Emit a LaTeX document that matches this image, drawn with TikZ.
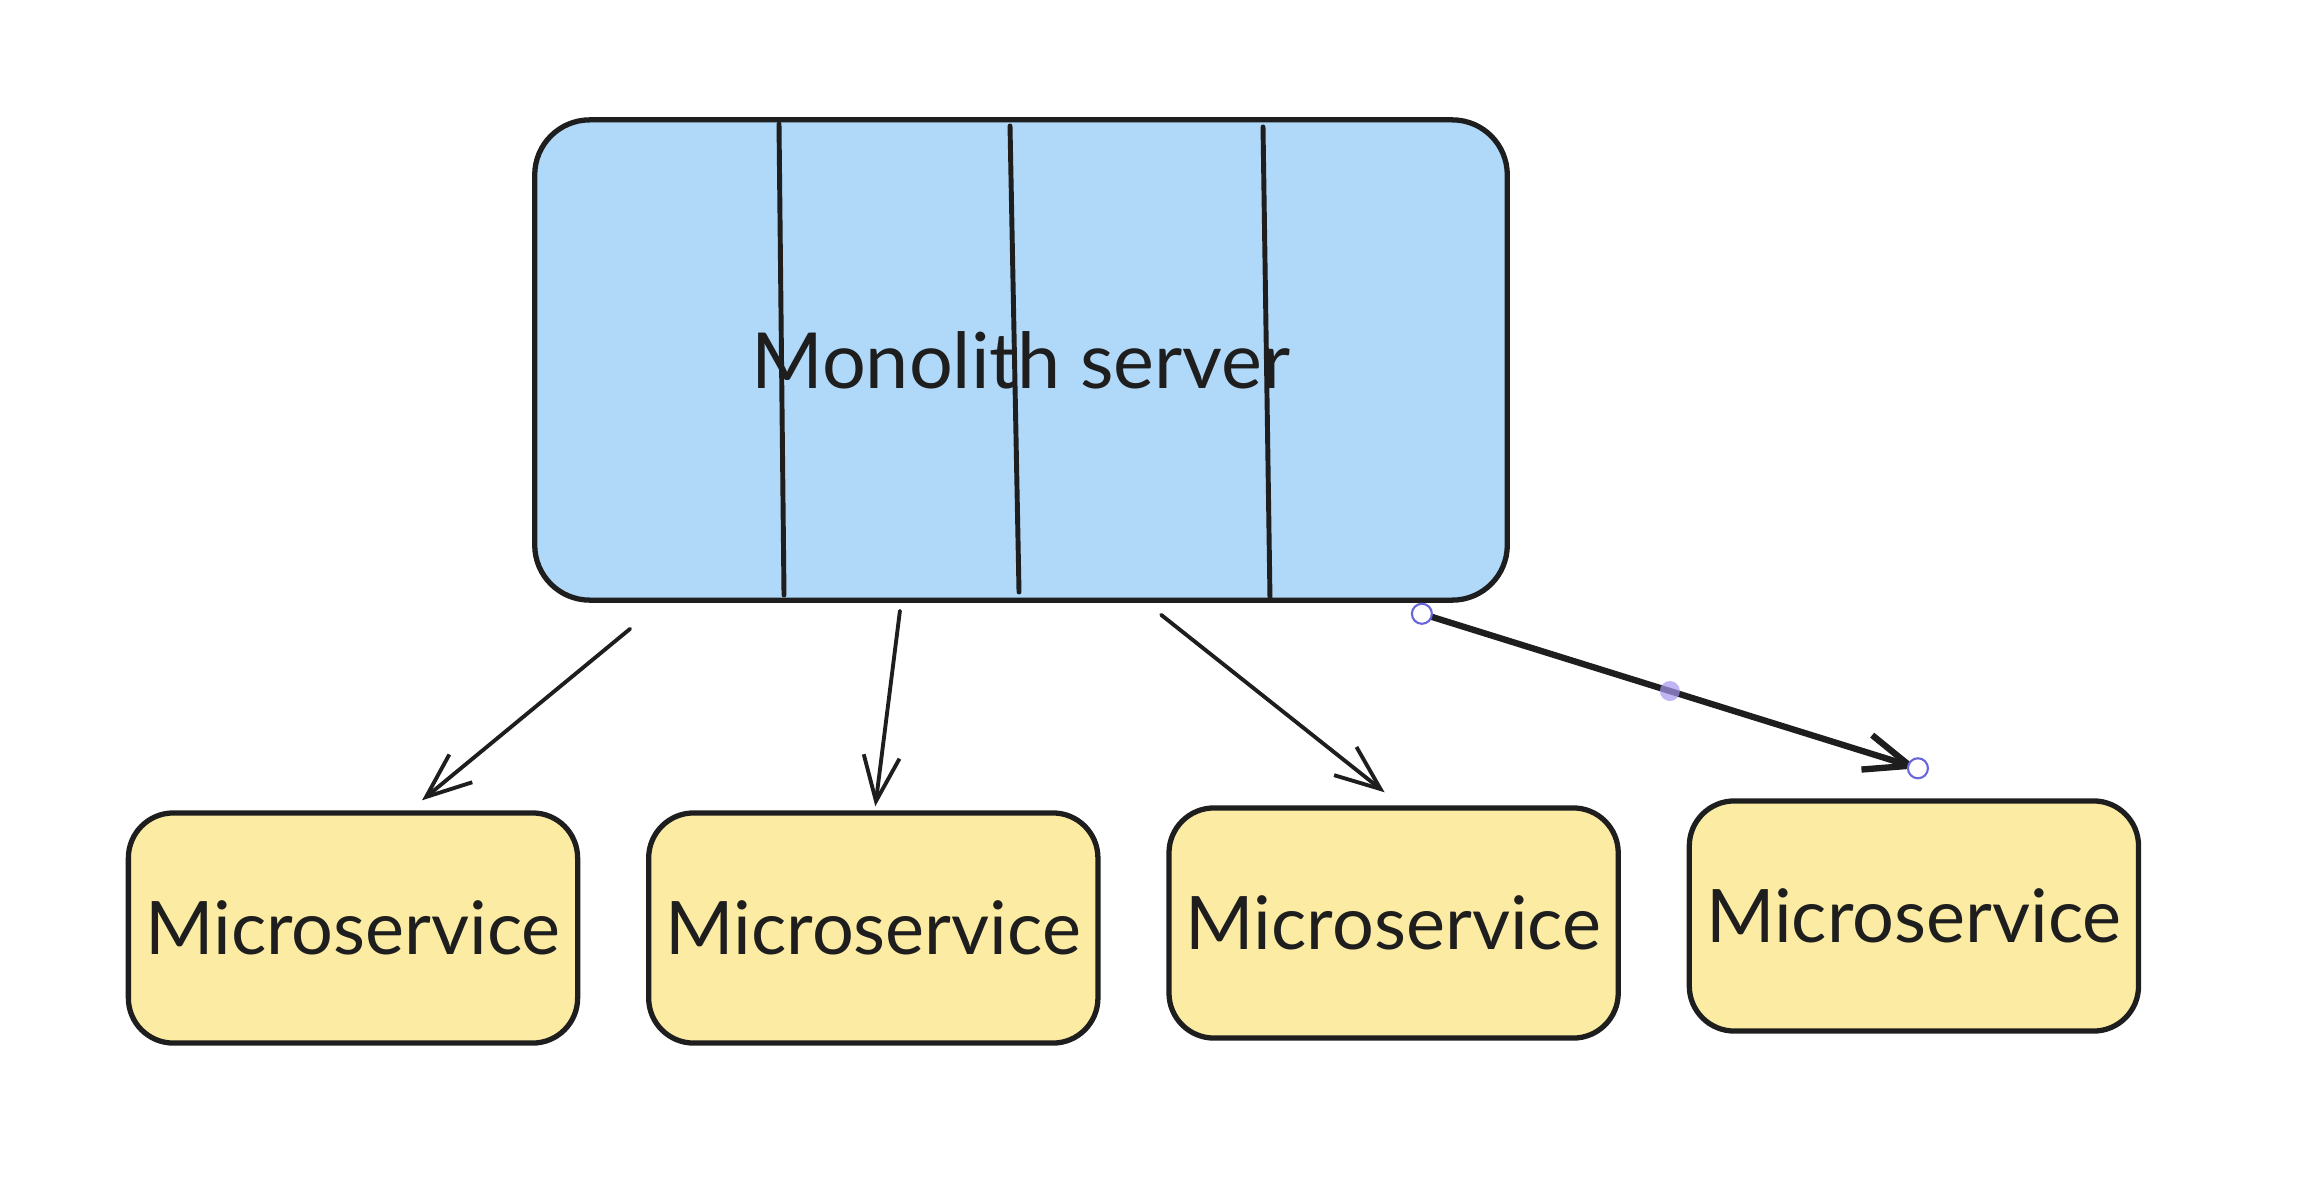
\documentclass[tikz,border=0pt]{standalone}
\usepackage{fontspec}
\setmainfont{Lato}
\usetikzlibrary{arrows,arrows.meta,positioning}

\definecolor{monoblue}{RGB}{176,216,248}
\definecolor{msyellow}{RGB}{252,235,163}
\definecolor{ink}{RGB}{30,30,30}
\definecolor{selblue}{RGB}{105,101,219}
\definecolor{selpurple}{RGB}{168,150,240}

\tikzset{
  server/.style={draw=ink,line width=1.5pt,fill=monoblue,rounded corners=0.55cm,minimum width=9.72cm,minimum height=4.8cm,font=\fontsize{22}{26}\selectfont,text=ink},
  service/.style={draw=ink,line width=1.5pt,fill=msyellow,rounded corners=0.45cm,minimum width=4.49cm,minimum height=2.3cm,font=\fontsize{21}{25}\selectfont,text=ink},
  handle/.style={circle,draw=selblue,fill=white,line width=0.6pt,inner sep=0pt,minimum size=0.2cm},
  midhandle/.style={circle,fill=selpurple,fill opacity=0.7,inner sep=0pt,minimum size=0.2cm}
}

\begin{document}
\begin{tikzpicture}[x=0.01cm,y=-0.01cm,>={Straight Barb[length=0.45cm,width=0.36cm]},line cap=round,node distance=5.2cm]
\useasboundingbox (0,0) rectangle (2304,1176);

\node[server] (mono) at (1021,360) {Monolith server};
\node[service] (ms1) at (353,928) {Microservice};
\node[service] (ms2) [right of=ms1] {Microservice};
\node[service] (ms3) [right of=ms2,yshift=0.05cm] {Microservice};
\node[service] (ms4) [right of=ms3,yshift=0.07cm] {Microservice};

% dividers inside the monolith
\draw[ink,line width=1.4pt] (779,124) -- (784,595);
\draw[ink,line width=1.4pt] (1010,126) -- (1019,592);
\draw[ink,line width=1.4pt] (1263,127) -- (1270,600);

\draw[->,ink,line width=1.1pt] ([xshift=0.98cm,yshift=-0.26cm]mono.south west) -- ([xshift=0.69cm,yshift=0.1cm]ms1.north);
\draw[->,ink,line width=1.1pt] ([xshift=-1.21cm,yshift=-0.08cm]mono.south) -- ([xshift=0.02cm,yshift=0.04cm]ms2.north);
\draw[->,ink,line width=1.1pt] ([xshift=1.4cm,yshift=-0.12cm]mono.south) -- ([xshift=-0.09cm,yshift=0.13cm]ms3.north);
\draw[->,ink,line width=1.8pt] ([xshift=-0.88cm,yshift=-0.11cm]mono.south east) -- ([xshift=0.04cm,yshift=0.3cm]ms4.north)
  node[handle,pos=0] {} node[midhandle,pos=0.5] {} node[handle,pos=1] {};
\end{tikzpicture}
\end{document}
